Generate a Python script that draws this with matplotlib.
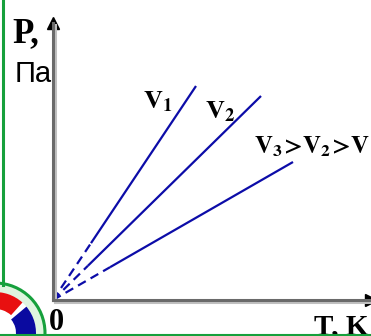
import matplotlib
matplotlib.use("Agg")
import matplotlib.pyplot as plt
import matplotlib.patheffects as pe
from matplotlib.lines import Line2D
from matplotlib.patches import Circle, Wedge
from matplotlib.transforms import IdentityTransform

# isochores P = k*T for three volumes (arbitrary units)
T_END = [143, 208, 240]
P_END = [214, 204, 138]
T_DASH = [38, 35, 57]          # extrapolated part near absolute zero
LABELS = [r"$\mathbf{V_1}$", r"$\mathbf{V_2}$", r"$\mathbf{V_3\!>\!V_2\!>\!V_1}$"]
LABEL_POS = [(90, 192), (152, 182), (201, 147)]
LABEL_SIZE = [19, 19, 18]

BLUE = "#0c0ca8"
GREEN = "#16a03c"

plt.rcParams["mathtext.fontset"] = "stix"

W, H = 371, 336
fig = plt.figure(figsize=(W / 100, H / 100), dpi=100)
ax = fig.add_axes([53 / W, 36 / H, 318 / W, 277 / H])
ax.set_xlim(0, 318)
ax.set_ylim(0, 277)
ax.set_xticks([])
ax.set_yticks([])
for s in ("top", "right"):
    ax.spines[s].set_visible(False)
for s in ("left", "bottom"):
    ax.spines[s].set_color("#6a6a6a")
    ax.spines[s].set_linewidth(2.2)
    ax.spines[s].set_path_effects([
        pe.SimpleLineShadow(offset=(1.6, -1.6), shadow_color="#c0c0c0", alpha=1.0),
        pe.Normal()])

# arrow heads
ax.plot(0, 1, marker="^", ms=9, color="black", transform=ax.transAxes, clip_on=False)
ax.plot(1, 0, marker=">", ms=9, color="black", transform=ax.transAxes, clip_on=False)

for te, pe_, td, lab, (lx, ly), fs in zip(T_END, P_END, T_DASH, LABELS, LABEL_POS, LABEL_SIZE):
    k = pe_ / te
    ax.plot([0, td], [0, k * td], color=BLUE, lw=1.6, dashes=(4, 2.5), clip_on=False)
    ax.plot([td, te], [k * td, pe_], color=BLUE, lw=1.6, solid_capstyle="butt")
    ax.text(lx, ly, lab, fontsize=fs, color="black", ha="left", va="baseline")

serif = "Liberation Serif"
ax.text(-41, 258, "P,", fontsize=25, fontweight="bold", family=serif,
        ha="left", va="baseline", clip_on=False)
ax.text(-38, 218, "Па", fontsize=21, family="Liberation Sans",
        ha="left", va="baseline", clip_on=False)
ax.text(-4, -30, "0", fontsize=22, fontweight="bold", family=serif,
        ha="left", va="baseline", clip_on=False)
ax.text(261, -34, "T, K", fontsize=21, fontweight="bold", family=serif,
        ha="left", va="baseline", clip_on=False)

# page border and emblem in the lower left corner
px = IdentityTransform()
fig.add_artist(Line2D([2.5, 2.5], [H - 285, H], color=GREEN, lw=2.2, transform=px))
fig.add_artist(Line2D([0, W], [1.5, 1.5], color=GREEN, lw=1.5, transform=px))
cx, cy = -5, H - 333
fig.add_artist(Circle((cx, cy), 50, facecolor="#dff5df", edgecolor=GREEN, lw=2.2, transform=px))
fig.add_artist(Circle((cx, cy), 41, facecolor="white", edgecolor="none", transform=px))
fig.add_artist(Wedge((cx, cy), 41, 48, 95, width=17, facecolor="#e81010", edgecolor="none", transform=px))
fig.add_artist(Wedge((cx, cy), 41, -10, 40, width=20, facecolor="#0a0aa0", edgecolor="none", transform=px))

fig.savefig("out.png", dpi=100)
